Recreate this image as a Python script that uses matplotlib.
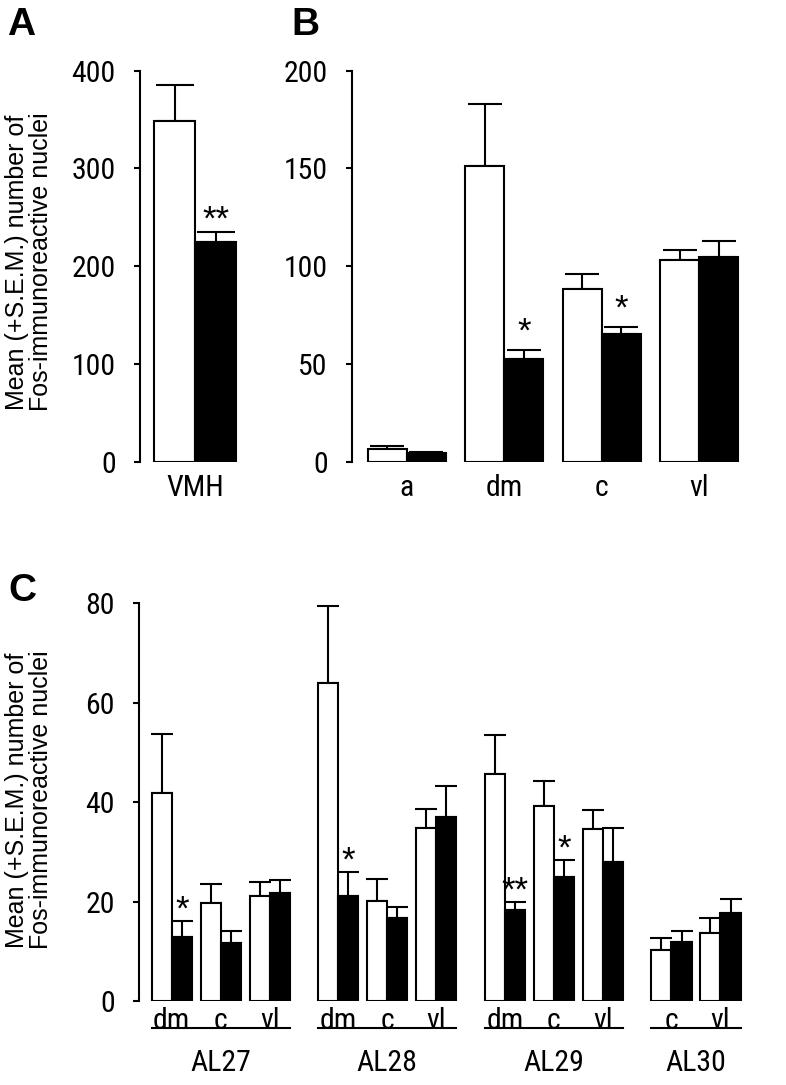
import matplotlib
matplotlib.use("Agg")
import matplotlib.pyplot as plt
import matplotlib.transforms as mtransforms
import numpy as np

# Panel A: VMH total
a_labels = ["VMH"]
a_ctrl = [348.7]
a_ctrl_sem = [37.0]
a_trt = [224.3]
a_trt_sem = [10.2]
a_stars = ["**"]

# Panel B: VMH subdivisions
b_labels = ["a", "dm", "c", "vl"]
b_ctrl = [6.2, 151.4, 88.2, 103.2]
b_ctrl_sem = [1.6, 31.8, 7.9, 5.0]
b_trt = [4.3, 52.3, 65.0, 104.6]
b_trt_sem = [0.8, 4.8, 3.7, 8.4]
b_stars = ["", "*", "*", ""]

# Panel C: AL27-AL30 subdivisions
c_groups = ["AL27", "AL28", "AL29", "AL30"]
c_sub = [["dm", "c", "vl"], ["dm", "c", "vl"], ["dm", "c", "vl"], ["c", "vl"]]
c_ctrl = [41.8, 19.7, 21.1, 63.9, 20.1, 34.8, 45.6, 39.2, 34.5, 10.2, 13.7]
c_ctrl_sem = [11.9, 3.9, 2.9, 15.6, 4.4, 3.9, 7.9, 5.0, 4.0, 2.5, 2.9]
c_trt = [12.9, 11.6, 21.8, 21.1, 16.6, 37.0, 18.3, 24.9, 28.0, 11.8, 17.7]
c_trt_sem = [3.2, 2.5, 2.5, 4.8, 2.3, 6.3, 1.6, 3.4, 6.7, 2.3, 2.8]
c_stars = ["*", "", "", "*", "", "", "**", "*", "", "", ""]

W, H = 786, 1085
NARROW = ["Roboto Condensed", "Liberation Sans", "DejaVu Sans"]
REGULAR = ["Liberation Sans", "DejaVu Sans"]
FS = 21.5
plt.rcParams["font.family"] = NARROW
fig = plt.figure(figsize=(W / 100, H / 100), dpi=100)


def px_axes(l, t, r, b):
    return fig.add_axes([l / W, 1 - b / H, (r - l) / W, (b - t) / H])


def draw_pairs(ax, x, ctrl, ctrl_sem, trt, trt_sem, stars, width, cap, star_off):
    x = np.asarray(x, dtype=float)
    zero = np.zeros(len(x))
    ax.bar(x - width / 2, ctrl, width, color="white", edgecolor="black", linewidth=1.5, zorder=2)
    ax.bar(x + width / 2, trt, width, color="black", edgecolor="black", linewidth=1.5, zorder=2)
    ax.errorbar(x - width / 2, ctrl, yerr=[zero, ctrl_sem], fmt="none", ecolor="black",
                elinewidth=1.5, capsize=cap, capthick=1.5, zorder=1)
    ax.errorbar(x + width / 2, trt, yerr=[zero, trt_sem], fmt="none", ecolor="black",
                elinewidth=1.5, capsize=cap, capthick=1.5, zorder=1)
    for xi, v, e, s in zip(x, trt, trt_sem, stars):
        if s:
            ax.annotate(s, xy=(xi + width / 2, v + e), xytext=(0, star_off),
                        textcoords="offset points", ha="center", va="baseline",
                        fontsize=25, family=REGULAR)


def style(ax, ymax, step):
    for side in ("top", "right", "bottom"):
        ax.spines[side].set_visible(False)
    ax.spines["left"].set_linewidth(1.5)
    ax.set_ylim(0, ymax)
    ax.set_yticks(np.arange(0, ymax + 1, step))
    ax.tick_params(axis="y", direction="out", length=4.5, width=1.5, pad=13, labelsize=FS)
    ax.tick_params(axis="x", length=0, labelsize=FS)


# A
axA = px_axes(140, 70.7, 245, 461.5)
xa = np.arange(len(a_labels))
draw_pairs(axA, xa, a_ctrl, a_ctrl_sem, a_trt, a_trt_sem, a_stars, 0.41, 13.5, 2)
style(axA, 400, 100)
axA.set_xlim(-0.55, 0.5)
axA.set_xticks(xa)
axA.set_xticklabels(a_labels)
axA.tick_params(axis="x", pad=9)

# B
axB = px_axes(352, 70.7, 742, 461.5)
xb = np.arange(len(b_labels))
draw_pairs(axB, xb, b_ctrl, b_ctrl_sem, b_trt, b_trt_sem, b_stars, 0.4, 12.5, 6)
style(axB, 200, 50)
axB.set_xlim(-0.564, 3.436)
axB.set_xticks(xb)
axB.set_xticklabels(b_labels)
axB.tick_params(axis="x", pad=9)

# C
axC = px_axes(139.3, 603.3, 745, 1001)
xc, spans, pos = [], [], 0.0
for gi, subs in enumerate(c_sub):
    start = pos
    for _ in subs:
        xc.append(pos)
        pos += 1.0
    spans.append((start, pos - 1.0))
    pos += 0.4
bw = 0.41
draw_pairs(axC, xc, c_ctrl, c_ctrl_sem, c_trt, c_trt_sem, c_stars, bw, 8, 1)
style(axC, 80, 20)
axC.set_xlim(-0.661, 11.7)
axC.set_xticks(xc)
axC.set_xticklabels([s for subs in c_sub for s in subs])
axC.tick_params(axis="x", pad=4)
trans = mtransforms.blended_transform_factory(axC.transData, axC.transAxes)
for name, (x0, x1) in zip(c_groups, spans):
    axC.plot([x0 - bw, x1 + bw], [-0.067, -0.067], color="black", lw=1.5,
             transform=trans, clip_on=False)
    axC.text((x0 + x1) / 2, -0.157, name, transform=trans, ha="center", va="center",
             fontsize=FS)

ylab = "Mean (+S.E.M.) number of\nFos-immunoreactive nuclei"
for yc in (262, 800):
    fig.text(29 / W, 1 - yc / H, ylab, rotation=90, ha="center", va="center",
             fontsize=18, linespacing=0.95, family=REGULAR)

for letter, xl, yt in (("A", 7, 7), ("B", 291, 7), ("C", 8, 573)):
    fig.text(xl / W, 1 - yt / H, letter, ha="left", va="top", fontsize=28,
             fontweight="bold", family=REGULAR)

fig.savefig("out.png", dpi=100)
